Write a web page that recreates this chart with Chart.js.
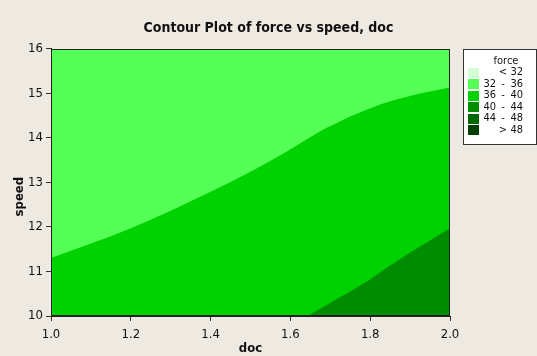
<!DOCTYPE html>
<html>
<head>
<meta charset="utf-8">
<script src="https://cdn.jsdelivr.net/npm/chart.js@4/dist/chart.umd.min.js"></script>
<style>
  html, body { margin: 0; padding: 0; background: #EEEAE1; }
  #wrap { width: 537px; height: 356px; }
</style>
</head>
<body>
<div id="wrap"><canvas id="c" width="537" height="356"></canvas></div>
<script>
// Axis ticks
const docTicks = [1.0, 1.2, 1.4, 1.6, 1.8, 2.0];
const speedTicks = [10, 11, 12, 13, 14, 15, 16];

// Contour line force = 36 (above: 32-36, below: 36-40)
const edge36Doc = [1.0, 1.2, 1.4, 1.5, 1.59, 1.69, 1.81, 1.9, 2.0];
const edge36Speed = [11.30, 11.97, 12.79, 13.24, 13.69, 14.22, 14.70, 14.94, 15.13];

// Contour line force = 40 (below/right: 40-44)
const edge40Doc = [1.643, 1.7, 1.771, 1.871, 2.0];
const edge40Speed = [10.0, 10.30, 10.66, 11.26, 11.97];

// Upper edge of the 32-36 band within the plotted range
const topDoc = [1.0, 2.0];
const topSpeed = [16, 16];

// Legend bands for force
const bandLow = ['', '32', '36', '40', '44', ''];
const bandSign = ['<', '-', '-', '-', '-', '>'];
const bandHigh = ['32', '36', '40', '44', '48', '48'];
const bandColors = ['#D4FFD4', '#55FF55', '#00D200', '#008C00', '#006900', '#003F00'];

const fontFamily = '"DejaVu Sans Condensed", "Liberation Sans", "DejaVu Sans", sans-serif';
Chart.defaults.font.family = fontFamily;
Chart.defaults.color = '#111';

const toPoints = (xs, ys) => xs.map((x, i) => ({ x: x, y: ys[i] }));

const pageBackground = {
  id: 'pageBackground',
  beforeDraw(chart) {
    const ctx = chart.ctx;
    ctx.save();
    ctx.fillStyle = '#EEEAE1';
    ctx.fillRect(0, 0, chart.width, chart.height);
    ctx.restore();
  }
};

const plotFrame = {
  id: 'plotFrame',
  afterDatasetsDraw(chart) {
    const { left, top, right, bottom } = chart.chartArea;
    const ctx = chart.ctx;
    ctx.save();
    ctx.strokeStyle = '#222';
    ctx.lineWidth = 1;
    ctx.strokeRect(Math.round(left) + 0.5, Math.round(top) + 0.5,
      Math.round(right - left) - 1, Math.round(bottom - top) - 1);
    ctx.restore();
  }
};

const forceLegend = {
  id: 'forceLegend',
  afterDraw(chart) {
    const ctx = chart.ctx;
    const x0 = Math.round(chart.chartArea.right) + 13;
    const y0 = Math.round(chart.chartArea.top);
    const w = 74, h = 96;
    ctx.save();
    ctx.fillStyle = '#FFFFFF';
    ctx.fillRect(x0, y0, w, h);
    ctx.strokeStyle = '#333';
    ctx.lineWidth = 1;
    ctx.strokeRect(x0 + 0.5, y0 + 0.5, w - 1, h - 1);

    ctx.fillStyle = '#111';
    ctx.font = '11px ' + fontFamily;
    ctx.textBaseline = 'middle';
    ctx.textAlign = 'center';
    ctx.fillText('force', x0 + 43, y0 + 12);

    for (let i = 0; i < bandColors.length; i++) {
      const cy = y0 + 23.5 + i * 11.5;
      ctx.fillStyle = bandColors[i];
      ctx.fillRect(x0 + 5, Math.round(cy - 5), 11, 10);
      ctx.fillStyle = '#111';
      ctx.textAlign = 'right';
      if (bandLow[i]) ctx.fillText(bandLow[i], x0 + 33, cy);
      ctx.fillText(bandHigh[i], x0 + 60, cy);
      ctx.textAlign = 'center';
      ctx.fillText(bandSign[i], x0 + 40, cy);
    }
    ctx.restore();
  }
};

new Chart(document.getElementById('c'), {
  type: 'line',
  data: {
    datasets: [
      {
        label: '40 - 44',
        data: toPoints(edge40Doc, edge40Speed),
        fill: 'start',
        backgroundColor: bandColors[3],
        borderWidth: 0,
        pointRadius: 0,
        cubicInterpolationMode: 'monotone',
        order: 1
      },
      {
        label: '36 - 40',
        data: toPoints(edge36Doc, edge36Speed),
        fill: 'start',
        backgroundColor: bandColors[2],
        borderWidth: 0,
        pointRadius: 0,
        cubicInterpolationMode: 'monotone',
        order: 2
      },
      {
        label: '32 - 36',
        data: toPoints(topDoc, topSpeed),
        fill: 'start',
        backgroundColor: bandColors[1],
        borderWidth: 0,
        pointRadius: 0,
        order: 3
      }
    ]
  },
  plugins: [pageBackground, plotFrame, forceLegend],
  options: {
    responsive: false,
    animation: false,
    events: [],
    layout: { padding: 0 },
    plugins: {
      legend: { display: false },
      tooltip: { enabled: false },
      title: {
        display: true,
        text: 'Contour Plot of force vs speed, doc',
        color: '#111',
        font: { size: 14, weight: 'bold' },
        padding: { top: 20, bottom: 12 }
      }
    },
    scales: {
      x: {
        type: 'linear',
        min: 1.0,
        max: 2.0,
        afterBuildTicks: s => { s.ticks = docTicks.map(v => ({ value: v })); },
        afterFit: s => { s.height = 40; },
        ticks: {
          color: '#111',
          font: { size: 13 },
          padding: 6,
          maxRotation: 0,
          callback: v => Number(v).toFixed(1)
        },
        grid: { drawOnChartArea: false, drawTicks: true, tickLength: 5, color: '#333' },
        border: { display: true, color: '#222' },
        title: {
          display: true,
          text: 'doc',
          color: '#111',
          font: { size: 13, weight: 'bold' },
          padding: { top: 0, bottom: 0 }
        }
      },
      y: {
        type: 'linear',
        min: 10,
        max: 16,
        afterBuildTicks: s => { s.ticks = speedTicks.map(v => ({ value: v })); },
        afterFit: s => { s.width = 51; },
        ticks: {
          color: '#111',
          font: { size: 13 },
          padding: 3
        },
        grid: { drawOnChartArea: false, drawTicks: true, tickLength: 5, color: '#333' },
        border: { display: true, color: '#222' },
        title: {
          display: true,
          text: 'speed       ',
          color: '#111',
          font: { size: 13, weight: 'bold' },
          padding: { top: 12, bottom: 0 }
        }
      },
      legendSpace: {
        type: 'linear',
        position: 'right',
        display: true,
        afterFit: s => { s.width = 87; },
        ticks: { display: false },
        grid: { display: false, drawTicks: false },
        border: { display: false }
      }
    }
  }
});
</script>
</body>
</html>
